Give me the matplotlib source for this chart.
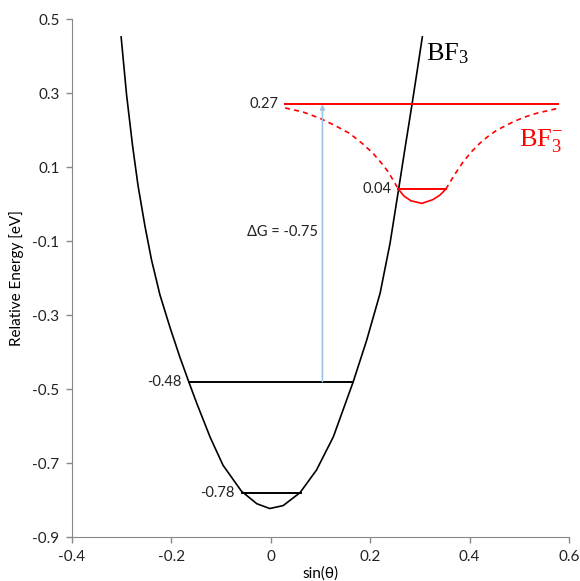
import matplotlib.pyplot as plt

plt.rcParams["font.family"] = ["Lato", "DejaVu Sans"]
plt.rcParams["mathtext.fontset"] = "custom"
plt.rcParams["mathtext.rm"] = "Liberation Serif"
plt.rcParams["mathtext.it"] = "Liberation Serif:italic"

# neutral BF3 curve
bf3_x = [-0.301, -0.290, -0.278, -0.267, -0.253, -0.240, -0.223, -0.203,
         -0.183, -0.165, -0.149, -0.122, -0.096, -0.059, -0.028, -0.002,
         0.025, 0.059, 0.092, 0.126, 0.166, 0.193, 0.220, 0.240, 0.257,
         0.270, 0.284, 0.294, 0.305]
bf3_y = [0.452, 0.295, 0.158, 0.050, -0.060, -0.150, -0.245, -0.332,
         -0.413, -0.480, -0.538, -0.630, -0.706, -0.776, -0.810, -0.823,
         -0.815, -0.780, -0.719, -0.629, -0.480, -0.368, -0.241, -0.106,
         0.038, 0.150, 0.268, 0.355, 0.452]

# anion curve: dashed left/right parts and solid well bottom
anion_left_x = [0.029, 0.065, 0.099, 0.130, 0.159, 0.185, 0.206, 0.222,
                0.236, 0.257]
anion_left_y = [0.260, 0.249, 0.232, 0.212, 0.191, 0.163, 0.137, 0.112,
                0.088, 0.040]
anion_well_x = [0.257, 0.268, 0.282, 0.304, 0.326, 0.340, 0.352]
anion_well_y = [0.040, 0.022, 0.009, 0.002, 0.012, 0.024, 0.040]
anion_right_x = [0.352, 0.370, 0.387, 0.404, 0.421, 0.438, 0.455, 0.487,
                 0.510, 0.536, 0.578]
anion_right_y = [0.040, 0.080, 0.114, 0.142, 0.165, 0.184, 0.200, 0.222,
                 0.235, 0.246, 0.259]

# energy levels: (value, x start, x end, colour)
levels = [
    (-0.78, -0.058, 0.060, "black"),
    (-0.48, -0.165, 0.166, "black"),
    (0.04, 0.257, 0.352, "red"),
    (0.27, 0.029, 0.578, "red"),
]
arrow_x = 0.104
delta_g = -0.75

fig = plt.figure(figsize=(5.8, 5.81), dpi=100)
ax = fig.add_axes([0.124, 0.0757, 0.857, 0.8913])

ax.plot(bf3_x, bf3_y, color="black", lw=1.2, solid_joinstyle="round")
ax.plot(anion_left_x, anion_left_y, color="red", lw=1.2, dashes=(3, 2.5))
ax.plot(anion_right_x, anion_right_y, color="red", lw=1.2, dashes=(3, 2.5))
ax.plot(anion_well_x, anion_well_y, color="red", lw=1.2,
        solid_joinstyle="round")

for val, x0, x1, col in levels:
    ax.plot([x0, x1], [val, val], color=col, lw=1.4)
    ax.text(x0 - 0.014, val, f"{val:.2f}", ha="right", va="center",
            fontsize=10.5, color="#222222")

ax.annotate("", xy=(arrow_x, 0.27), xytext=(arrow_x, -0.48),
            arrowprops=dict(arrowstyle="-|>", color="#9DC3E6", lw=1.2,
                            mutation_scale=7, shrinkA=0, shrinkB=0))
ax.text(0.095, -0.076, f"ΔG = {delta_g:.2f}", ha="right", va="center",
        fontsize=10.5, color="#222222")

ax.text(0.312, 0.408, r"$\mathrm{BF}_3$", fontsize=19, color="black",
        ha="left", va="center")
ax.text(0.50, 0.173, r"$\mathrm{BF}_3^{-}$", fontsize=19, color="red",
        ha="left", va="center")

ax.set_xlim(-0.4, 0.6)
ax.set_ylim(-0.9, 0.5)
ax.set_xticks([-0.4, -0.2, 0, 0.2, 0.4, 0.6])
ax.set_xticklabels(["-0.4", "-0.2", "0", "0.2", "0.4", "0.6"])
ax.set_yticks([-0.9, -0.7, -0.5, -0.3, -0.1, 0.1, 0.3, 0.5])
ax.set_yticklabels(["-0.9", "-0.7", "-0.5", "-0.3", "-0.1", "0.1", "0.3", "0.5"])
ax.tick_params(direction="out", length=4, width=1, color="#888888",
               labelsize=11, labelcolor="#222222", pad=5)
for s in ["top", "right"]:
    ax.spines[s].set_visible(False)
for s in ["left", "bottom"]:
    ax.spines[s].set_color("#888888")

ax.set_xlabel("sin(θ)", fontsize=11, labelpad=2)
ax.set_ylabel("Relative Energy [eV]", fontsize=11, labelpad=6)

fig.savefig("out.png", dpi=100)
